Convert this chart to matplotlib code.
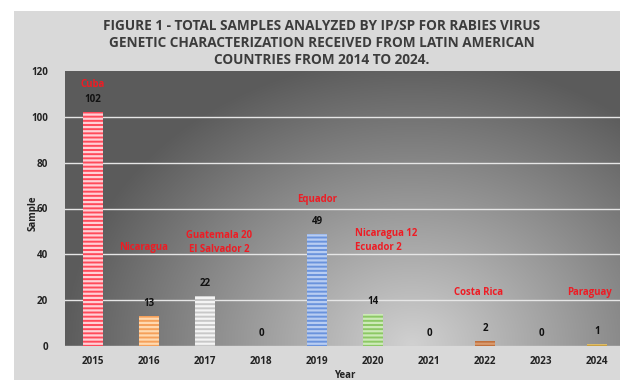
import numpy as np
import matplotlib
matplotlib.use("Agg")
import matplotlib.pyplot as plt
from matplotlib.patches import Rectangle

years = ["2015", "2016", "2017", "2018", "2019", "2020", "2021", "2022", "2023", "2024"]
samples = [102, 13, 22, 0, 49, 14, 0, 2, 0, 1]
bar_colors = ["#ff4a5a", "#f5a05a", "#c8c8c8", "#999999", "#6a93dc",
              "#8cc865", "#999999", "#c0703c", "#999999", "#c9a040"]
stripe_colors = ["#ffd0d6", "#ffd9b0", "#f4f4f4", "#dddddd", "#b8cdf2",
                 "#cdeab8", "#dddddd", "#d99a6e", "#dddddd", "#e0c070"]
country_labels = ["Cuba", "Nicaragua", "Guatemala 20\nEl Salvador 2", "", "Equador",
                  "Nicaragua 12\nEcuador 2", "", "Costa Rica", "", "Paraguay"]
country_y = [114, 43, 45, 0, 64, 46, 0, 23.5, 0, 23.5]
country_dx = [0, -0.1, 0.25, 0, 0, -0.32, 0, -0.12, 0, -0.14]
country_ha = ["center", "center", "center", "center", "center", "left",
              "center", "center", "center", "center"]

title_lines = ["FIGURE 1 - TOTAL SAMPLES ANALYZED BY IP/SP FOR RABIES VIRUS",
               "GENETIC CHARACTERIZATION RECEIVED FROM LATIN AMERICAN",
               "COUNTRIES FROM 2014 TO 2024."]

plt.rcParams['font.family'] = ['Open Sans', 'DejaVu Sans']
plt.rcParams['hatch.linewidth'] = 1.6

W, H = 620, 380
fig = plt.figure(figsize=(W / 100, H / 100), dpi=100, facecolor="white")
fig.patches.append(Rectangle((14 / W, 0), 1, (H - 11) / H, transform=fig.transFigure,
                             facecolor="#d9d9d9", edgecolor="none", zorder=-10))

for i, (line, yp) in enumerate(zip(title_lines, [26, 43, 60])):
    fig.text(322 / W, 1 - yp / H, line, ha="center", va="center",
             fontsize=9.8, fontweight="bold", color="#3c3c3c")

ax = fig.add_axes([65 / W, 34 / H, 560 / W, 275 / H])
ax.set_xlim(-0.5, 9.5)
ax.set_ylim(0, 120)

# radial gradient background
nx, ny = 400, 200
xx, yy = np.meshgrid(np.linspace(0, 1, nx), np.linspace(0, 1, ny))
d = np.sqrt(((xx - 0.62) / 0.62) ** 2 + ((yy - 0.0) / 1.05) ** 2)
d = np.clip(d, 0, 1)
light, dark = 0.82, 0.36
val = light - (light - dark) * d ** 1.0
img = np.dstack([val, val, val])
ax.imshow(img, extent=[-0.5, 9.5, 0, 120], origin="lower", aspect="auto", zorder=0,
          interpolation="bilinear")

for gy in [20, 40, 60, 80, 100]:
    ax.axhline(gy, color="#e6e6e6", lw=1.0, zorder=1)
ax.axhline(0, color="#cfcfcf", lw=1.0, zorder=1)

x = np.arange(len(years))
for xi, v, c, sc in zip(x, samples, bar_colors, stripe_colors):
    if v > 0:
        ax.bar(xi, v, width=0.36, color=c, edgecolor=sc, lw=0, hatch="----", zorder=2)
    ax.annotate(str(v), (xi, v), xytext=(0, 9), textcoords="offset points",
                ha="center", va="center", fontsize=7, fontweight="bold", color="#111111",
                zorder=4)

for xi, lab, cy, dx, ha in zip(x, country_labels, country_y, country_dx, country_ha):
    if lab:
        ax.text(xi + dx, cy, lab, ha=ha, va="center", fontsize=6.9, fontweight="bold",
                color="#ee1c24", linespacing=1.4, zorder=4)

ax.set_xticks(x)
ax.set_xticklabels(years, fontsize=7.1, fontweight="bold", color="#222222")
ax.set_yticks([0, 20, 40, 60, 80, 100, 120])
ax.set_yticklabels(["0", "20", "40", "60", "80", "100", "120"], fontsize=7.1,
                   fontweight="bold", color="#222222")
ax.tick_params(length=0, pad=7)
ax.tick_params(axis="y", pad=12)
for s in ax.spines.values():
    s.set_visible(False)

fig.text(33 / W, 1 - 213 / H, "Sample", rotation=90, ha="center", va="center",
         fontsize=7, fontweight="bold", color="#222222")
fig.text(345 / W, 1 - 376 / H, "Year", ha="center", va="center",
         fontsize=7, fontweight="bold", color="#222222")

fig.savefig("out.png", dpi=100)
